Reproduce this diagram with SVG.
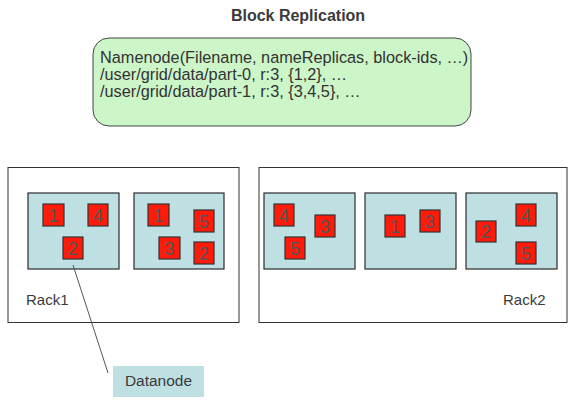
<svg xmlns="http://www.w3.org/2000/svg" width="573" height="406" viewBox="0 0 573 406">
<style>
text{font-family:"Liberation Sans",Arial,sans-serif;fill:#3a3a3a}
.rack{fill:#fff;stroke:#333;stroke-width:1}
.dn{fill:#bfe0e3;stroke:#2a2a2a;stroke-width:1.2}
.blk{fill:#ff1a0a;stroke:#333;stroke-width:1.2}
.bt{font-size:18px;fill:#555;text-anchor:middle}
.lbl{font-size:15px}
.nn{font-size:16.3px;fill:#333}
</style>
<rect width="573" height="406" fill="#fff"/>
<text x="298" y="21" text-anchor="middle" style="font-size:16px;font-weight:bold;fill:#3a3a3a">Block Replication</text>
<g id="namenode">
<rect x="93" y="38" width="378" height="88" rx="16" ry="16" fill="#ccf5c8" stroke="#444" stroke-width="1"/>
<text class="nn" x="100" y="63">Namenode(Filename, nameReplicas, block-ids, …)</text>
<text class="nn" x="100" y="80">/user/grid/data/part-0, r:3, {1,2}, …</text>
<text class="nn" x="100" y="97">/user/grid/data/part-1, r:3, {3,4,5}, …</text>
</g>
<g id="rack1">
<rect class="rack" x="8" y="167.5" width="231" height="155"/>
<text class="lbl" x="26" y="305">Rack1</text>
</g>
<g id="rack2">
<rect class="rack" x="259" y="167.5" width="308" height="155"/>
<text class="lbl" x="503" y="305">Rack2</text>
</g>
<g id="dn1">
<rect class="dn" x="28" y="193" width="91" height="76"/>
<rect class="blk" x="43" y="204" width="21" height="22"/><text class="bt" x="53.5" y="222">1</text>
<rect class="blk" x="88" y="204" width="20" height="22"/><text class="bt" x="98" y="222">4</text>
<rect class="blk" x="63" y="237" width="20" height="22"/><text class="bt" x="73" y="255">2</text>
</g>
<g id="dn2">
<rect class="dn" x="134" y="193" width="90" height="76"/>
<rect class="blk" x="148" y="204" width="21" height="22"/><text class="bt" x="158.5" y="222">1</text>
<rect class="blk" x="194" y="210" width="20" height="22"/><text class="bt" x="204" y="228">5</text>
<rect class="blk" x="159" y="237" width="21" height="22"/><text class="bt" x="169.5" y="255">3</text>
<rect class="blk" x="194" y="242" width="20" height="22"/><text class="bt" x="204" y="260">2</text>
</g>
<g id="dn3">
<rect class="dn" x="264" y="193" width="91" height="76"/>
<rect class="blk" x="274" y="204" width="20" height="22"/><text class="bt" x="284" y="222">4</text>
<rect class="blk" x="315" y="215" width="20" height="22"/><text class="bt" x="325" y="233">3</text>
<rect class="blk" x="285" y="237" width="20" height="22"/><text class="bt" x="295" y="255">5</text>
</g>
<g id="dn4">
<rect class="dn" x="365" y="193" width="91" height="76"/>
<rect class="blk" x="385" y="215" width="20" height="22"/><text class="bt" x="395" y="233">1</text>
<rect class="blk" x="420" y="210" width="20" height="22"/><text class="bt" x="430" y="228">3</text>
</g>
<g id="dn5">
<rect class="dn" x="466" y="193" width="91" height="76"/>
<rect class="blk" x="476" y="221" width="20" height="21"/><text class="bt" x="486" y="238">2</text>
<rect class="blk" x="516" y="204" width="20" height="22"/><text class="bt" x="526" y="222">4</text>
<rect class="blk" x="516" y="242" width="20" height="22"/><text class="bt" x="526" y="260">5</text>
</g>
<g id="connectors">
<line x1="73" y1="265" x2="108" y2="373" stroke="#555" stroke-width="1"/>
</g>
<g id="datanode-label">
<rect x="113" y="366" width="91" height="31" fill="#bfe0e3"/>
<text x="158.5" y="386" text-anchor="middle" style="font-size:15.5px">Datanode</text>
</g>
</svg>
